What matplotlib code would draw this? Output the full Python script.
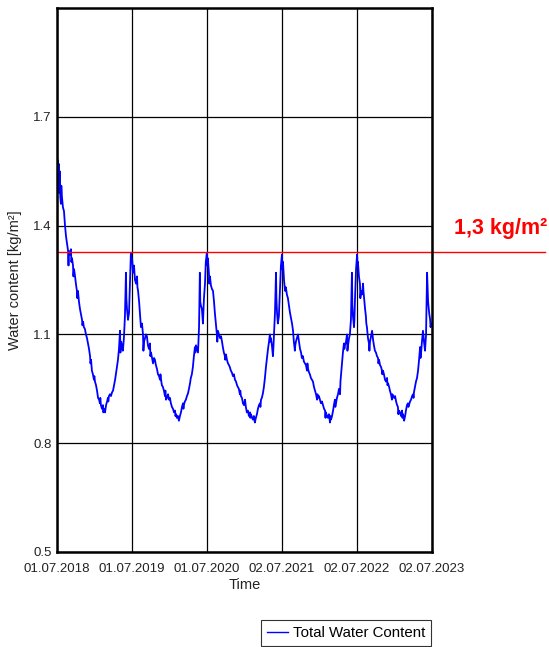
import numpy as np
import matplotlib
matplotlib.use("Agg")
import matplotlib.pyplot as plt
import matplotlib.dates as mdates
import matplotlib.transforms as mtransforms

plt.rcParams['font.family'] = ['Liberation Sans', 'DejaVu Sans']

start = np.datetime64('2018-07-01')
end = np.datetime64('2023-07-02')

# day offsets from 01.07.2018 and total water content [kg/m2]
days = [
    0, 5, 7, 9, 11, 13, 16, 19, 21, 24, 29, 34, 39, 44, 49, 54, 56, 58, 63, 68, 70, 73, 78, 80, 83, 88,
    92, 97, 99, 102, 107, 112, 117, 122, 124, 127, 131, 136, 141, 146, 151, 156, 161, 163, 166, 170,
    175, 180, 182, 185, 190, 195, 200, 205, 209, 211, 214, 219, 224, 226, 229, 234, 239, 244, 248,
    250, 253, 258, 263, 268, 273, 278, 283, 287, 292, 297, 302, 307, 309, 312, 317, 321, 326, 331,
    336, 338, 341, 346, 351, 356, 360, 363,
    366, 370, 375, 380, 385, 390, 392, 395, 400, 404, 409, 414, 419, 421, 424, 429, 433, 438, 443,
    448, 453, 455, 458, 463, 468, 473, 477, 482, 487, 492, 497, 502, 504, 507, 511, 516, 521, 526,
    528, 531, 536, 541, 546, 550, 555, 560, 565, 570, 575, 577, 580, 584, 589, 594, 599, 604, 609,
    614, 616, 618, 623, 628, 633, 638, 643, 648, 652, 657, 662, 667, 672, 674, 677, 682, 687, 689,
    692, 696, 698, 701, 706, 711, 716, 721, 725, 730, 732,
    735, 740, 742, 745, 750, 755, 760, 765, 769, 774, 779, 781, 784, 789, 794, 799, 804, 808, 813,
    818, 820, 823, 828, 833, 838, 842, 847, 852, 857, 862, 867, 872, 877, 881, 886, 891, 893, 896,
    901, 906, 911, 916, 920, 925, 930, 935, 940, 942, 945, 950, 955, 959, 964, 969, 974, 979, 984,
    989, 991, 994, 998, 1003, 1008, 1013, 1018, 1023, 1028, 1033, 1037, 1039, 1042, 1047, 1052,
    1054, 1057, 1062, 1067, 1069, 1072, 1076, 1081, 1086, 1091, 1096, 1098,
    1101, 1106, 1111, 1115, 1120, 1125, 1130, 1135, 1140, 1145, 1150, 1154, 1159, 1161, 1164, 1169,
    1174, 1179, 1184, 1189, 1193, 1198, 1203, 1208, 1213, 1218, 1220, 1223, 1228, 1232, 1237, 1242,
    1247, 1252, 1257, 1262, 1267, 1269, 1271, 1276, 1281, 1286, 1291, 1296, 1301, 1306, 1308, 1310,
    1315, 1320, 1325, 1330, 1332, 1335, 1340, 1345, 1349, 1354, 1356, 1359, 1364, 1369, 1374, 1379,
    1381, 1384, 1388, 1393, 1398, 1400, 1403, 1408, 1413, 1415, 1418, 1423, 1427, 1432, 1437, 1439,
    1442, 1447, 1449, 1452, 1457, 1462, 1464,
    1466, 1471, 1476, 1478, 1481, 1486, 1491, 1493, 1496, 1501, 1505, 1507, 1510, 1515, 1520, 1522,
    1525, 1530, 1535, 1537, 1540, 1544, 1549, 1554, 1559, 1564, 1566, 1569, 1574, 1579, 1583, 1585,
    1588, 1593, 1598, 1603, 1608, 1610, 1613, 1618, 1622, 1627, 1632, 1634, 1637, 1642, 1647, 1652,
    1657, 1661, 1663, 1666, 1671, 1676, 1681, 1683, 1686, 1691, 1696, 1700, 1705, 1710, 1712, 1715,
    1720, 1725, 1730, 1735, 1737, 1739, 1744, 1749, 1754, 1759, 1764, 1769, 1771, 1774, 1778, 1783,
    1788, 1793, 1798, 1803, 1808, 1813, 1818, 1820, 1823,
]
water = [
    1.50, 1.58, 1.50, 1.57, 1.49, 1.55, 1.48, 1.46, 1.51, 1.48, 1.45, 1.44, 1.40, 1.37, 1.35, 1.33,
    1.29, 1.33, 1.32, 1.335, 1.30, 1.31, 1.29, 1.26, 1.28, 1.26, 1.24, 1.22, 1.20, 1.22, 1.19, 1.17,
    1.155, 1.14, 1.125, 1.135, 1.12, 1.115, 1.10, 1.09, 1.075, 1.06, 1.04, 1.02, 1.03, 1.00, 0.99,
    0.975, 0.985, 0.97, 0.96, 0.945, 0.925, 0.92, 0.91, 0.925, 0.905, 0.895, 0.905, 0.885, 0.895,
    0.885, 0.905, 0.915, 0.925, 0.915, 0.93, 0.935, 0.93, 0.94, 0.945, 0.96, 0.975, 0.99, 1.01,
    1.03, 1.06, 1.11, 1.05, 1.08, 1.07, 1.055, 1.09, 1.15, 1.27, 1.20, 1.17, 1.14, 1.16, 1.25,
    1.325, 1.30,
    1.31, 1.27, 1.29, 1.25, 1.24, 1.26, 1.23, 1.22, 1.19, 1.16, 1.12, 1.13, 1.10, 1.055, 1.08,
    1.09, 1.10, 1.095, 1.07, 1.06, 1.075, 1.04, 1.05, 1.035, 1.02, 1.035, 1.03, 1.015, 1.005, 0.99,
    0.985, 0.975, 0.99, 0.975, 0.96, 0.955, 0.945, 0.93, 0.945, 0.92, 0.925, 0.935, 0.92, 0.925,
    0.91, 0.90, 0.895, 0.885, 0.89, 0.875, 0.88, 0.87, 0.875, 0.862, 0.875, 0.885, 0.90, 0.91,
    0.895, 0.905, 0.915, 0.92, 0.93, 0.937, 0.95, 0.965, 0.98, 0.99, 1.01, 1.04, 1.065, 1.05, 1.07,
    1.06, 1.05, 1.08, 1.12, 1.27, 1.19, 1.18, 1.17, 1.13, 1.20, 1.24, 1.30, 1.325, 1.29,
    1.31, 1.27, 1.24, 1.26, 1.235, 1.225, 1.22, 1.19, 1.16, 1.13, 1.10, 1.08, 1.11, 1.10, 1.09,
    1.095, 1.08, 1.065, 1.05, 1.04, 1.03, 1.045, 1.03, 1.02, 1.015, 1.01, 1.00, 0.995, 0.985, 0.99,
    0.975, 0.97, 0.96, 0.955, 0.95, 0.935, 0.945, 0.93, 0.925, 0.91, 0.905, 0.92, 0.90, 0.885,
    0.89, 0.875, 0.885, 0.87, 0.88, 0.87, 0.865, 0.875, 0.857, 0.87, 0.88, 0.895, 0.905, 0.91,
    0.90, 0.92, 0.925, 0.937, 0.955, 0.98, 1.01, 1.035, 1.06, 1.08, 1.10, 1.08, 1.09, 1.07, 1.04,
    1.06, 1.10, 1.16, 1.27, 1.20, 1.16, 1.13, 1.15, 1.22, 1.29, 1.32, 1.28,
    1.30, 1.25, 1.22, 1.23, 1.21, 1.20, 1.18, 1.16, 1.145, 1.13, 1.11, 1.08, 1.055, 1.07, 1.08,
    1.09, 1.10, 1.08, 1.06, 1.05, 1.035, 1.04, 1.025, 1.02, 1.015, 1.00, 1.02, 1.005, 0.995, 0.99,
    0.98, 0.975, 0.97, 0.955, 0.945, 0.935, 0.92, 0.935, 0.925, 0.93, 0.92, 0.91, 0.915, 0.905,
    0.895, 0.89, 0.87, 0.885, 0.875, 0.87, 0.88, 0.857, 0.875, 0.865, 0.875, 0.89, 0.905, 0.92,
    0.90, 0.91, 0.925, 0.935, 0.95, 0.935, 0.97, 0.99, 1.02, 1.05, 1.075, 1.06, 1.07, 1.08, 1.10,
    1.055, 1.07, 1.09, 1.10, 1.14, 1.27, 1.18, 1.15, 1.12, 1.14, 1.20, 1.28, 1.32, 1.29,
    1.30, 1.26, 1.24, 1.20, 1.22, 1.21, 1.24, 1.22, 1.20, 1.17, 1.15, 1.13, 1.12, 1.09, 1.075,
    1.055, 1.08, 1.095, 1.11, 1.10, 1.085, 1.07, 1.055, 1.05, 1.04, 1.035, 1.02, 1.03, 1.015, 1.01,
    1.00, 0.99, 1.00, 0.99, 0.975, 0.97, 0.98, 0.96, 0.965, 0.955, 0.945, 0.935, 0.92, 0.935, 0.93,
    0.925, 0.93, 0.915, 0.905, 0.90, 0.88, 0.89, 0.885, 0.875, 0.89, 0.87, 0.88, 0.862, 0.875,
    0.89, 0.905, 0.91, 0.90, 0.905, 0.915, 0.92, 0.93, 0.935, 0.925, 0.94, 0.955, 0.97, 0.98, 1.00,
    1.03, 1.065, 1.035, 1.05, 1.08, 1.11, 1.08, 1.055, 1.10, 1.27, 1.19, 1.16, 1.14, 1.12, 1.13,
]

tick_dates = ['2018-07-01', '2019-07-01', '2020-07-01', '2021-07-02', '2022-07-02', '2023-07-02']
y_ticks = [0.5, 0.8, 1.1, 1.4, 1.7]
limit = 1.327

dates = start + np.array(days).astype('timedelta64[D]')

fig = plt.figure(figsize=(5.49, 6.47), dpi=100)
ax = fig.add_axes([57 / 549, 1 - 552 / 647, 375 / 549, 544 / 647])

line, = ax.plot(dates, water, color='#0000ff', lw=1.3, label='Total Water Content')

ax.set_xlim(start, end)
ax.set_ylim(0.5, 2.0)
ax.set_yticks(y_ticks)
ax.set_xticks([np.datetime64(d) for d in tick_dates])
ax.xaxis.set_major_formatter(mdates.DateFormatter('%d.%m.%Y'))
ax.grid(True, color='black', lw=0.9)
ax.set_axisbelow(True)
ax.tick_params(length=0, labelsize=9.5, colors='#222222')
ax.tick_params(axis='x', pad=8)
ax.tick_params(axis='y', pad=4)
for s in ax.spines.values():
    s.set_linewidth(1.8)
    s.set_color('black')

ax.set_xlabel('Time', fontsize=10.5, color='#222222', labelpad=2)
ax.set_ylabel('Water content [kg/m²]', fontsize=10.5, color='#222222', labelpad=8)

# limit line runs past the right edge of the plot
ax.axhline(limit, xmin=0, xmax=(545 - 57) / 375, color='#ff0000', lw=1.0, clip_on=False)
trans = mtransforms.blended_transform_factory(ax.transAxes, ax.transData)
label = f"{limit:.1f}".replace('.', ',') + " kg/m²"
ax.annotate(label, xy=(1.06, limit), xycoords=trans, xytext=(0, 17),
            textcoords='offset points', va='center', ha='left',
            fontsize=15.5, fontweight='bold', color='#ff0000', annotation_clip=False)

leg = fig.legend(handles=[line], loc='upper right', bbox_to_anchor=(431 / 549, 1 - 620 / 647),
                 fontsize=10.8, frameon=True, fancybox=False, handlelength=1.4,
                 handletextpad=0.3, borderpad=0.4, borderaxespad=0)
leg.get_frame().set_edgecolor('black')
leg.get_frame().set_linewidth(0.8)
leg.get_lines()[0].set_linewidth(1.0)

fig.savefig('out.png', dpi=100)
